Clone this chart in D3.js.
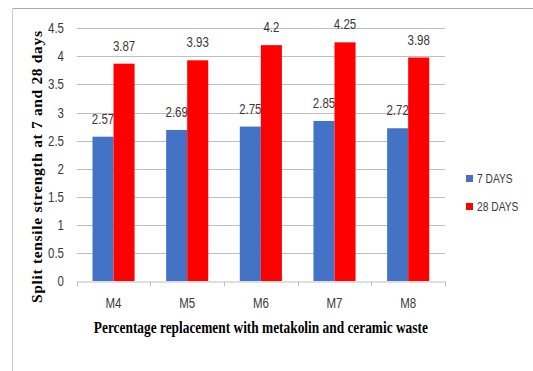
<!DOCTYPE html>
<html>
<head>
<meta charset="utf-8">
<script src="https://cdn.jsdelivr.net/npm/d3@7"></script>
<style>
  html, body { margin: 0; padding: 0; background: #fff; }
  svg { display: block; }
  .lbl { font-family: "Liberation Sans", Arial, sans-serif; fill: #3a3a3a; }
  .ttl { font-family: "Liberation Serif", "Times New Roman", serif; font-weight: bold; fill: #000; }
</style>
</head>
<body>
<svg id="chart" width="533" height="371"></svg>
<script>
// Mix designs and split tensile strength (MPa) at 7 and 28 days
const mixes = ["M4", "M5", "M6", "M7", "M8"];
const seriesNames = ["7 DAYS", "28 DAYS"];
const days7 = [2.57, 2.69, 2.75, 2.85, 2.72];
const days28 = [3.87, 3.93, 4.2, 4.25, 3.98];
const yTicks = [0, 0.5, 1, 1.5, 2, 2.5, 3, 3.5, 4, 4.5];
const colors = ["#4472C4", "#FF0000"];

const svg = d3.select("#chart");
const W = 533, H = 371;
const SQUEEZE = 0.82; // horizontal condensing for the sans labels

// condensed label placed at (x, y)
function label(parent, x, y, text, anchor, size, dy) {
  parent.append("g")
    .attr("transform", `translate(${x},${y}) scale(${SQUEEZE},1)`)
    .append("text")
    .attr("class", "lbl")
    .attr("font-size", size)
    .attr("text-anchor", anchor)
    .attr("dy", dy || 0)
    .text(text);
}

// outer frame (top and left edges)
svg.append("line").attr("x1", 12.5).attr("x2", W).attr("y1", 8.5).attr("y2", 8.5)
  .attr("stroke", "#aaaaaa").attr("stroke-width", 1);
svg.append("line").attr("x1", 12.5).attr("x2", 12.5).attr("y1", 8.5).attr("y2", H)
  .attr("stroke", "#cccccc").attr("stroke-width", 1);

const plot = { left: 76.7, right: 445, top: 28.3, bottom: 281 };

const x = d3.scaleBand().domain(mixes).range([plot.left, plot.right]).paddingInner(0).paddingOuter(0);
const inner = d3.scaleBand().domain(seriesNames).range([0, x.bandwidth()]).paddingOuter(0.75).paddingInner(0);
const y = d3.scaleLinear().domain([0, 4.5]).range([plot.bottom, plot.top]);

// horizontal gridlines
svg.append("g").selectAll("line").data(yTicks.filter(d => d > 0)).join("line")
  .attr("x1", plot.left).attr("x2", plot.right)
  .attr("y1", d => Math.round(y(d)) + 0.5).attr("y2", d => Math.round(y(d)) + 0.5)
  .attr("stroke", "#bfbfbf").attr("stroke-width", 1);

// y axis labels
const gy = svg.append("g");
yTicks.forEach(t => label(gy, plot.left - 12.7, y(t), d3.format("~g")(t), "end", 14, "0.36em"));

// x axis line with outward ticks at category boundaries
const xAxis = d3.axisBottom(x).tickSize(0).tickFormat("");
const gx = svg.append("g").attr("transform", `translate(0,${Math.round(plot.bottom) + 0.5})`).call(xAxis);
gx.select(".domain").attr("stroke", "#bfbfbf");
const bounds = mixes.map(m => x(m)).concat([plot.right]);
gx.append("g").selectAll("line").data(bounds).join("line")
  .attr("x1", d => Math.round(d) + 0.5).attr("x2", d => Math.round(d) + 0.5)
  .attr("y1", 0).attr("y2", 5).attr("stroke", "#bfbfbf");
mixes.forEach(m => label(svg, x(m) + x.bandwidth() / 2, 308, m, "middle", 14));

const data = mixes.map((m, i) => ({ mix: m, values: [days7[i], days28[i]] }));

// 7-day bars and labels first, so the 28-day bars sit on top of them
seriesNames.forEach((s, si) => {
  const g = svg.append("g");
  g.selectAll("rect").data(data).join("rect")
    .attr("x", d => x(d.mix) + inner(s))
    .attr("y", d => y(d.values[si]))
    .attr("width", inner.bandwidth())
    .attr("height", d => y(0) - y(d.values[si]))
    .attr("fill", colors[si]);
  data.forEach(d => label(g, x(d.mix) + inner(s) + inner.bandwidth() / 2,
    y(d.values[si]) - 13, String(d.values[si]), "middle", 14));
});

// axis titles
svg.append("text").attr("class", "ttl").attr("font-size", 17)
  .attr("text-anchor", "middle")
  .attr("x", (plot.left + plot.right) / 2).attr("y", 333)
  .attr("textLength", 334).attr("lengthAdjust", "spacingAndGlyphs")
  .text("Percentage replacement with metakolin and ceramic waste");

svg.append("text").attr("class", "ttl").attr("font-size", 15.5)
  .attr("text-anchor", "middle")
  .attr("transform", "translate(42,167) rotate(-90)")
  .attr("textLength", 272).attr("lengthAdjust", "spacing")
  .text("Split tensile strength at 7 and 28 days");

// legend
const legend = svg.append("g");
seriesNames.forEach((s, i) => {
  const ly = 178.5 + i * 28;
  legend.append("rect").attr("x", 466).attr("y", ly - 3.5).attr("width", 7).attr("height", 7).attr("fill", colors[i]);
  label(legend, 477, ly, s, "start", 12.5, "0.36em");
});
</script>
</body>
</html>
